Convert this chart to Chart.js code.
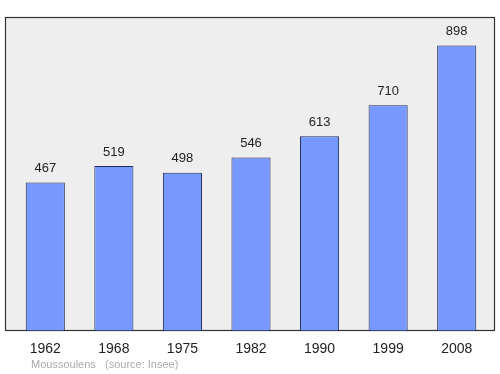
<!DOCTYPE html>
<html>
<head>
<meta charset="utf-8">
<script src="https://cdn.jsdelivr.net/npm/chart.js@4/dist/chart.umd.min.js"></script>
<style>
  html, body { margin: 0; padding: 0; background: #fff; }
  canvas { display: block; }
</style>
</head>
<body>
<canvas id="myChart" width="500" height="374"></canvas>
<script>
// population par recensement
const years = ['1962', '1968', '1975', '1982', '1990', '1999', '2008'];
const population = [467, 519, 498, 546, 613, 710, 898];
const placeName = 'Moussoulens';
const sourceText = '(source: Insee)';

const FONT = '"Liberation Sans", Arial, sans-serif';

// fond gris + cadre, puis valeurs au-dessus des barres
const framePlugin = {
  id: 'frame',
  beforeDraw(chart) {
    const ctx = chart.ctx;
    ctx.save();
    ctx.fillStyle = '#eeeeee';
    ctx.fillRect(5.5, 17.5, 489, 313);
    ctx.strokeStyle = '#333333';
    ctx.lineWidth = 1.2;
    ctx.strokeRect(5.5, 17.5, 489, 313);
    ctx.restore();
  },
  afterDraw(chart) {
    const ctx = chart.ctx;
    const meta = chart.getDatasetMeta(0);
    ctx.save();
    ctx.font = '13px ' + FONT;
    ctx.fillStyle = '#222222';
    ctx.textAlign = 'center';
    ctx.textBaseline = 'middle';
    meta.data.forEach((bar, i) => {
      ctx.fillText(String(population[i]), bar.x, bar.y - 14);
    });
    ctx.font = '11px ' + FONT;
    ctx.fillStyle = '#aaaaaa';
    ctx.textAlign = 'left';
    ctx.fillText(placeName, 31, 365);
    ctx.fillText(sourceText, 105, 365);
    ctx.restore();
  },
};

const data = {
  labels: years,
  datasets: [
    {
      data: population,
      backgroundColor: '#7799ff',
      borderColor: '#1f2a55',
      borderWidth: 1,
      borderSkipped: false,
      barPercentage: 0.57,
      categoryPercentage: 1,
    },
  ],
};

const config = {
  type: 'bar',
  data: data,
  options: {
    responsive: false,
    animation: false,
    layout: {
      padding: { left: 11, right: 9, top: 13, bottom: 14 },
    },
    plugins: {
      legend: { display: false },
      tooltip: { enabled: false },
    },
    scales: {
      x: {
        grid: { display: false },
        border: { display: false },
        ticks: {
          padding: 2,
          color: '#222222',
          font: { family: FONT, size: 14 },
          maxRotation: 0,
        },
      },
      y: {
        display: false,
        min: 0,
        max: 1000,
      },
    },
  },
  plugins: [framePlugin],
};

const myChart = new Chart(document.getElementById('myChart'), config);
</script>
</body>
</html>
